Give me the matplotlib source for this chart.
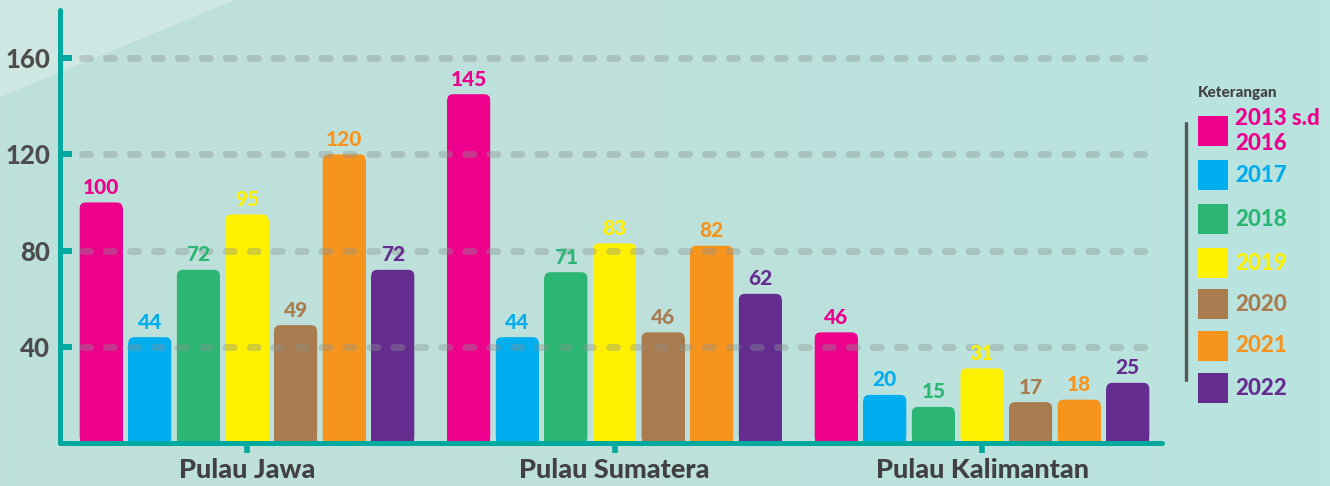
#!/usr/bin/env python3

import numpy as np
import matplotlib
matplotlib.use("Agg")
import matplotlib.pyplot as plt
from matplotlib.patches import FancyBboxPatch, Polygon, Rectangle
from matplotlib.colors import LinearSegmentedColormap

# Data
islands = ["Pulau Jawa", "Pulau Sumatera", "Pulau Kalimantan"]
periods = ["2013 s.d\n2016", "2017", "2018", "2019", "2020", "2021", "2022"]
jawa = [100, 44, 72, 95, 49, 120, 72]
sumatera = [145, 44, 71, 83, 46, 82, 62]
kalimantan = [46, 20, 15, 31, 17, 18, 25]
yticks = [40, 80, 120, 160]

colors = ["#ec008c", "#00aeef", "#2bb673", "#fff200", "#a97c50", "#f7941d", "#662d91"]
teal = "#00a99d"
text_grey = "#4d4d4d"
heavy = "black"

plt.rcParams["font.family"] = ["Lato", "DejaVu Sans"]

W, H = 1330, 486
fig = plt.figure(figsize=(W / 100, H / 100), dpi=100)

# Background: soft teal gradient with a lighter corner
bg = fig.add_axes([0, 0, 1, 1], zorder=-10)
grad = np.linspace(0, 1, 256).reshape(1, -1)
cmap = LinearSegmentedColormap.from_list("bg", ["#bfe0da", "#bde1db", "#b9e4e0"])
bg.imshow(grad, aspect="auto", cmap=cmap, extent=[0, 1, 0, 1])
bg.add_patch(Polygon([[0, 1], [235 / W, 1], [0, 1 - 97 / H]], closed=True,
                     facecolor="#cfe7e3", edgecolor="none"))
bg.set_xlim(0, 1)
bg.set_ylim(0, 1)
bg.axis("off")

# Main axes, placed by pixel
left, right, bottom_px, top_px = 60, 1162, 443, 10
ax = fig.add_axes([left / W, (H - bottom_px) / H, (right - left) / W, (bottom_px - top_px) / H])
ax.patch.set_alpha(0)

group_px = 367.5
x0_px = 247
ax.set_xlim((left - x0_px) / group_px, (right - x0_px) / group_px)
ax.set_ylim(0, 180)

px_per_unit = (bottom_px - top_px) / 180
step = 48.6 / group_px
width = 43 / group_px
radius_x = 6 / group_px
radius_y = 6 / px_per_unit

values = [jawa, sumatera, kalimantan]
x = np.arange(len(islands))

for j, col in enumerate(colors):
    heights = [v[j] for v in values]
    pos = x + (j - 3) * step
    bars = ax.bar(pos, heights, width=width, color=col, alpha=0)
    for b, h in zip(bars, heights):
        bx = b.get_x()
        # rounded top, square bottom
        ax.add_patch(FancyBboxPatch((bx, 0), width, h,
                                    boxstyle=f"round,pad=0,rounding_size={radius_x}",
                                    mutation_aspect=radius_y / radius_x,
                                    facecolor=col, edgecolor="none", zorder=2))
        ax.add_patch(Rectangle((bx, 0), width, max(h - radius_y, 0),
                               facecolor=col, edgecolor="none", zorder=2))
        ax.text(bx + width / 2, h + 2.3, str(h), ha="center", va="bottom",
                fontsize=15, fontweight=heavy, color=col, zorder=4)

# Dashed gridlines over the bars
gx0 = (82 - x0_px) / group_px
gx1 = (1160 - x0_px) / group_px
for yt in yticks:
    ax.plot([gx0, gx1], [yt, yt], color="#8a9391", alpha=0.38, lw=5,
            dashes=(1.15, 2.3), dash_capstyle="round", zorder=3)

# Axes styling
for s in ["top", "right"]:
    ax.spines[s].set_visible(False)
for s in ["left", "bottom"]:
    ax.spines[s].set_color(teal)
    ax.spines[s].set_linewidth(3.6)
    ax.spines[s].set_capstyle("round")
    ax.spines[s].set_zorder(5)

ax.set_yticks(yticks)
ax.set_yticklabels([str(t) for t in yticks], fontsize=18.5, fontweight=heavy, color=text_grey)
ax.tick_params(axis="y", direction="in", length=8.5, width=4.3, color=teal, pad=7)
ax.set_xticks(x)
ax.set_xticklabels(islands, fontsize=19.5, fontweight=heavy, color="#414042")
ax.tick_params(axis="x", direction="out", length=7, width=4, color=teal, pad=4)

# Legend
fig.text(1198 / W, 1 - 93 / H, "Keterangan", fontsize=11, fontweight=heavy,
         color="#414042", va="center", ha="left")
leg_y = [131, 175, 219, 263, 304, 346, 388]
for col, lab, yc in zip(colors, periods, leg_y):
    fig.patches.append(Rectangle((1198 / W, 1 - (yc + 15) / H), 30 / W, 30 / H,
                                 facecolor=col, edgecolor="none",
                                 transform=fig.transFigure, figure=fig))
    fig.text(1235 / W, 1 - yc / H, lab, fontsize=16, fontweight=heavy, color=col,
             va="center", ha="left", linespacing=1.2)
fig.lines.append(plt.Line2D([1186 / W, 1186 / W], [1 - 123 / H, 1 - 380 / H],
                            color="#555a59", lw=2.4, solid_capstyle="round",
                            transform=fig.transFigure))

fig.savefig("out.png", dpi=100)
